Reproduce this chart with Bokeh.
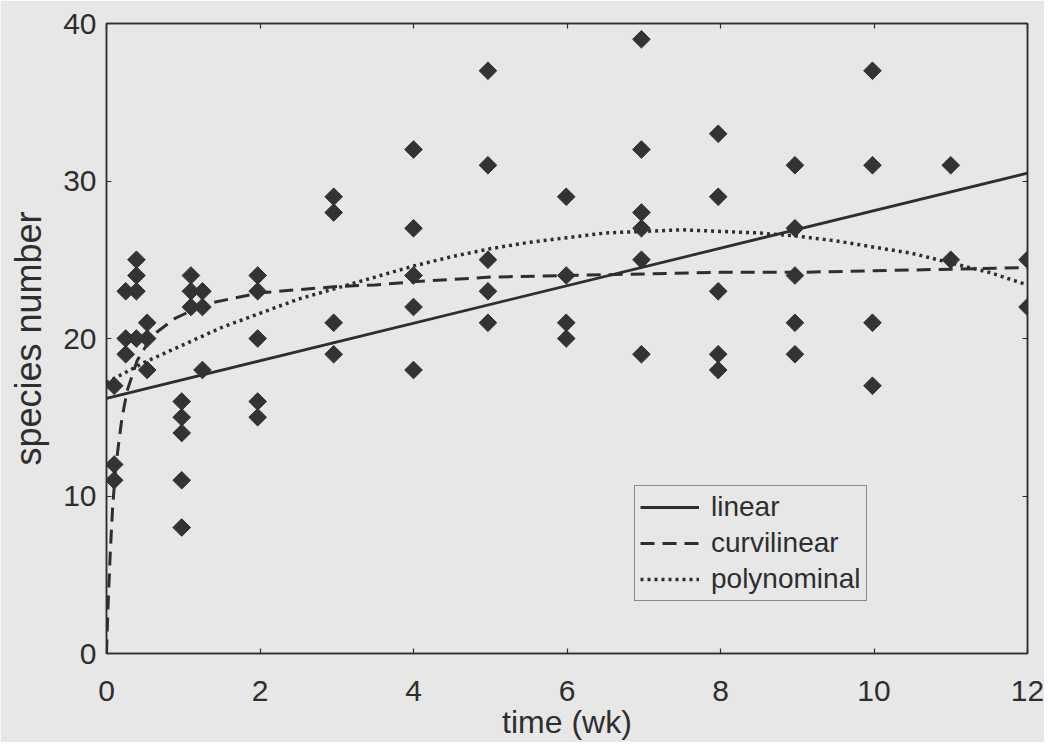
import numpy as np
from bokeh.plotting import figure
from bokeh.models import (LinearAxis, Legend, LegendItem, FixedTicker, Range1d,
                          CustomJSTickFormatter)
from bokeh.embed import file_html
from bokeh.resources import INLINE

# ---- data ----
obs_time = [0.1, 0.1, 0.1,
            0.25, 0.25, 0.25,
            0.39, 0.39, 0.39, 0.39,
            0.53, 0.53, 0.53,
            0.98, 0.98, 0.98, 0.98, 0.98,
            1.1, 1.1, 1.1,
            1.25, 1.25, 1.25,
            1.97, 1.97, 1.97, 1.97, 1.97,
            2.96, 2.96, 2.96, 2.96,
            4.0, 4.0, 4.0, 4.0, 4.0,
            4.97, 4.97, 4.97, 4.97, 4.97,
            5.99, 5.99, 5.99, 5.99,
            6.97, 6.97, 6.97, 6.97, 6.97, 6.97,
            7.97, 7.97, 7.97, 7.97, 7.97,
            8.97, 8.97, 8.97, 8.97, 8.97,
            9.98, 9.98, 9.98, 9.98,
            11.0, 11.0,
            12.0, 12.0]
obs_species = [17, 12, 11,
               23, 20, 19,
               25, 24, 23, 20,
               21, 20, 18,
               16, 15, 14, 11, 8,
               24, 23, 22,
               23, 22, 18,
               24, 23, 20, 16, 15,
               29, 28, 21, 19,
               32, 27, 24, 22, 18,
               37, 31, 25, 23, 21,
               29, 24, 21, 20,
               39, 32, 28, 27, 25, 19,
               33, 29, 23, 19, 18,
               31, 27, 24, 21, 19,
               37, 31, 21, 17,
               31, 25,
               25, 22]

lin_time = [0, 12]
lin_species = [16.2, 30.5]

curv_time = [0, 0.02, 0.05, 0.08, 0.12, 0.16, 0.2, 0.27, 0.4, 0.6, 0.9, 1.3,
             1.6, 2, 2.5, 3, 3.5, 4, 5, 6, 7, 8, 9, 10, 11, 12]
curv_species = [0, 3.0, 6.5, 9.3, 11.8, 13.4, 14.9, 16.7, 18.6, 20.2, 21.3, 22.2,
                22.5, 22.9, 23.1, 23.3, 23.4, 23.6, 23.9, 24.0, 24.1, 24.2, 24.2,
                24.3, 24.4, 24.5]

poly_time = [0, 0.5, 1, 1.5, 2, 2.5, 3, 3.5, 4, 4.5, 5, 5.5, 6, 6.5, 7, 7.5,
             8, 8.5, 9, 9.5, 10, 10.5, 11, 11.5, 12]
poly_species = [17.2, 18.5, 19.6, 20.7, 21.6, 22.5, 23.2, 23.9, 24.6, 25.2, 25.7,
                26.1, 26.4, 26.7, 26.8, 26.9, 26.8, 26.7, 26.5, 26.2, 25.8, 25.4,
                24.8, 24.2, 23.4]

x_ticks = [0, 2, 4, 6, 8, 10, 12]
y_ticks = [0, 10, 20, 30, 40]

# ---- styling ----
BG = "#e7e7e7"
INK = "#2e2e2e"
FONT = "Liberation Sans"

p = figure(frame_width=921, frame_height=630, output_backend="svg",
           toolbar_location=None,
           x_range=Range1d(0, 12), y_range=Range1d(0, 40),
           min_border_left=106, min_border_right=17, min_border_top=23,
           min_border_bottom=80)
p.background_fill_color = BG
p.border_fill_color = BG
p.outline_line_color = INK
p.outline_line_width = 1.5
p.xgrid.grid_line_color = None
p.ygrid.grid_line_color = None

def style_axis(ax, ticks, show_labels=True):
    ax.ticker = FixedTicker(ticks=ticks)
    ax.axis_line_color = INK
    ax.axis_line_width = 1.5
    ax.major_tick_line_color = INK
    ax.major_tick_line_width = 1.2
    ax.major_tick_in = 5
    ax.major_tick_out = 0
    ax.minor_tick_line_color = None
    if show_labels:
        ax.major_label_text_font = FONT
        ax.major_label_text_font_size = "30px"
        ax.major_label_text_color = INK
        ax.axis_label_text_font = FONT
        ax.axis_label_text_font_style = "normal"
        ax.axis_label_text_color = INK
    else:
        ax.formatter = CustomJSTickFormatter(code="return ''")
        ax.major_label_text_font_size = "1px"
        ax.major_label_standoff = 0

style_axis(p.xaxis[0], x_ticks)
style_axis(p.yaxis[0], y_ticks)
p.xaxis[0].axis_label = "time (wk)"
p.xaxis[0].axis_label_text_font_size = "32px"
p.yaxis[0].axis_label = "species number"
p.yaxis[0].axis_label_text_font_size = "36px"
p.xaxis[0].major_label_standoff = 27
p.xaxis[0].axis_label_standoff = 0
p.yaxis[0].major_label_standoff = 10
p.yaxis[0].axis_label_standoff = 11

top_ax = LinearAxis()
style_axis(top_ax, x_ticks, show_labels=False)
p.add_layout(top_ax, "above")
right_ax = LinearAxis()
style_axis(right_ax, y_ticks, show_labels=False)
p.add_layout(right_ax, "right")

# ---- marks ----
r_lin = p.line(lin_time, lin_species, line_color=INK, line_width=2.8)
r_curv = p.line(curv_time, curv_species, line_color=INK, line_width=3,
                line_dash="14 8")
r_poly = p.line(poly_time, poly_species, line_color=INK, line_width=3.5,
                line_dash="3 4")
p.scatter(obs_time, obs_species, marker="square", angle=np.pi / 4, size=12.5,
          fill_color="#333333", line_color="#333333")

legend = Legend(items=[LegendItem(label="linear", renderers=[r_lin]),
                       LegendItem(label="curvilinear", renderers=[r_curv]),
                       LegendItem(label="polynominal", renderers=[r_poly])],
                location=(528, 52))
legend.label_text_font = FONT
legend.label_text_font_size = "28px"
legend.label_text_color = INK
legend.border_line_color = INK
legend.border_line_width = 1.5
legend.background_fill_color = BG
legend.background_fill_alpha = 1
legend.glyph_width = 59
legend.glyph_height = 30
legend.label_height = 30
legend.label_width = 150
legend.label_standoff = 12
legend.padding = 5
legend.spacing = 4
legend.margin = 0
p.add_layout(legend)

open("out.html", "w").write(file_html(p, INLINE))
